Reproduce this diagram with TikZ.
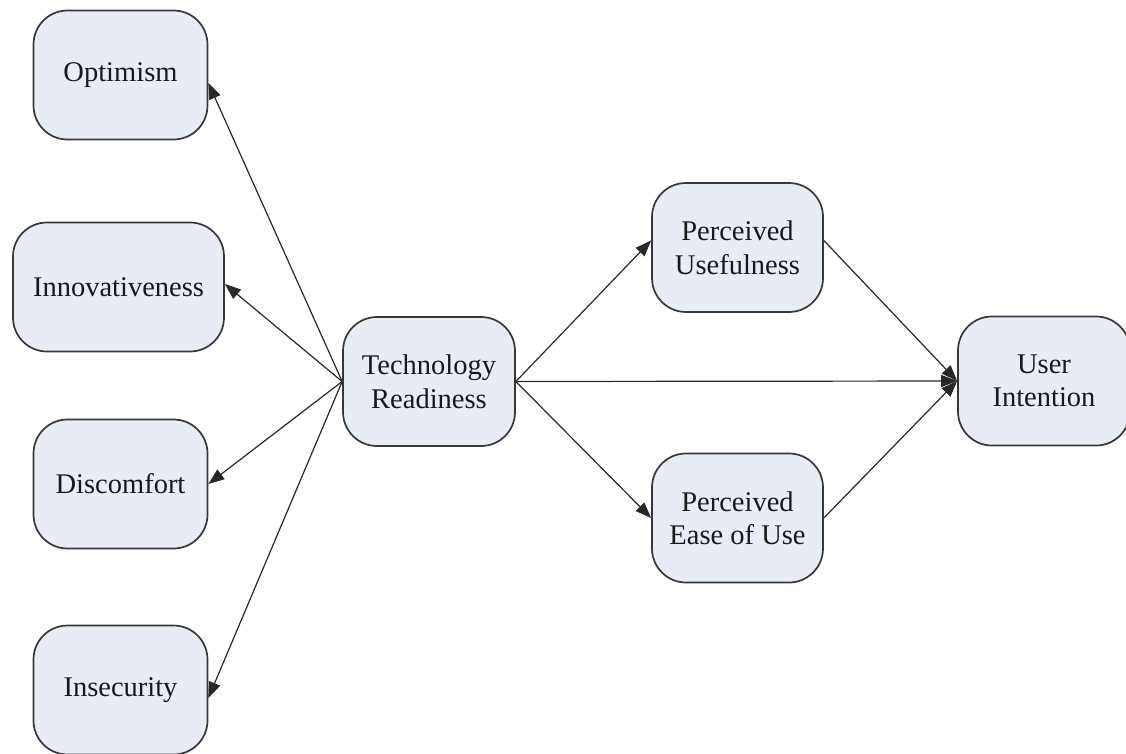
\documentclass[tikz,border=0pt]{standalone}
\usepackage{fontspec}
\setmainfont{Liberation Serif}
\usetikzlibrary{arrows.meta}
\definecolor{boxfill}{RGB}{231,236,247}
\definecolor{boxline}{RGB}{55,55,55}
\definecolor{linkline}{RGB}{40,40,40}
\begin{document}
\begin{tikzpicture}[x=1pt,y=-1pt,
  factor/.style={draw=boxline, line width=1.7pt, fill=boxfill, rounded corners=34pt,
    minimum height=129pt, inner sep=0pt, align=center, text=black!90,
    font=\fontsize{28.5}{33.5}\selectfont},
  link/.style={draw=linkline, line width=1.2pt,
    -{Triangle[length=16pt,width=12pt]}}]
\useasboundingbox[fill=white] (0,0) rectangle (1126,753);

% left-hand dimensions of technology readiness
\node[factor, minimum width=174pt] (opt) at (120.5,75) {Optimism};
\node[factor, minimum width=211pt] (inn) at (118.5,287) {Innovativeness};
\node[factor, minimum width=174pt] (dis) at (120.5,484) {Discomfort};
\node[factor, minimum width=174pt] (ins) at (120.5,690) {Insecurity};

% core constructs
\node[factor, minimum width=172pt] (tr) at (429,381.5) {Technology\\Readiness};
\node[factor, minimum width=171pt] (pu) at (737.5,247.5) {Perceived\\Usefulness};
\node[factor, minimum width=171pt] (peu) at (737.5,518) {Perceived\\Ease of Use};
\node[factor, minimum width=172pt] (ui) at (1044,381) {User\\Intention};

% fan of arrows to the dimensions
\draw[link] (tr.west) -- ([yshift=-8pt]opt.east);
\draw[link] (tr.west) -- ([yshift=3pt]inn.east);
\draw[link] (tr.west) -- (dis.east);
\draw[link] (tr.west) -- ([yshift=-8pt]ins.east);

% paths towards user intention
\draw[link] (tr.east) -- ([yshift=7pt]pu.west);
\draw[link] (tr.east) -- (peu.west);
\draw[link] (tr.east) -- (ui.west);
\draw[link] ([yshift=7pt]pu.east) -- (ui.west);
\draw[link] (peu.east) -- (ui.west);
\end{tikzpicture}
\end{document}
